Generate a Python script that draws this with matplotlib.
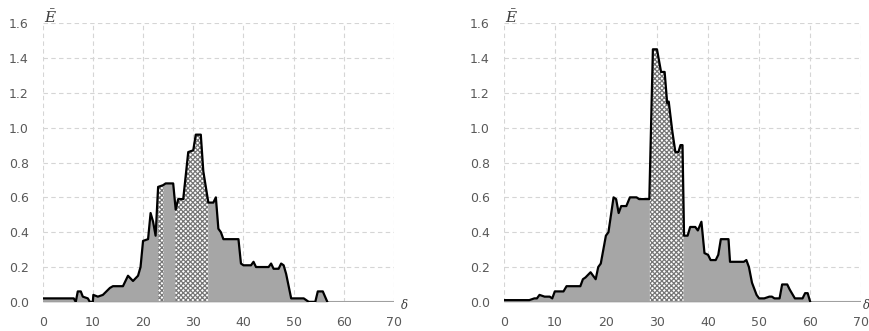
import numpy as np
import matplotlib.pyplot as plt

# left panel curve (breakpoints)
x_left = [0, 6.2, 6.6, 7.0, 7.6, 8.0, 9.0, 9.4, 10.0, 10.1, 11.0, 12.0, 13.4, 14.0, 16.0, 17.0,
          18.0, 19.0, 19.5, 20.0, 21.0, 21.5, 22.0, 22.5, 23.0, 24.0, 24.5, 26.0, 26.5, 27.0,
          28.0, 29.0, 30.0, 30.5, 31.5, 32.0, 33.0, 34.0, 34.5, 35.0, 35.5, 36.0, 39.0, 39.5,
          40.0, 41.5, 42.0, 42.5, 45.0, 45.5, 46.0, 47.0, 47.5, 48.0, 48.5, 49.5, 52.0, 53.0,
          54.3, 54.8, 55.8, 56.7, 70.0]
e_left = [0.02, 0.02, 0.0, 0.06, 0.06, 0.03, 0.02, 0.0, 0.0, 0.04, 0.03, 0.04, 0.08, 0.09, 0.09, 0.15,
          0.12, 0.15, 0.2, 0.35, 0.36, 0.51, 0.46, 0.38, 0.66, 0.67, 0.68, 0.68, 0.53, 0.59,
          0.59, 0.86, 0.87, 0.96, 0.96, 0.75, 0.57, 0.57, 0.60, 0.42, 0.40, 0.36, 0.36, 0.22,
          0.21, 0.21, 0.23, 0.20, 0.20, 0.22, 0.19, 0.19, 0.22, 0.21, 0.16, 0.02, 0.02, 0.0,
          0.0, 0.06, 0.06, 0.0, 0.0]
hatch_left = [(23.0, 24.1), (26.4, 33.0)]

# right panel curve
x_right = [0, 5.0, 6.0, 6.5, 7.0, 8.0, 9.0, 9.5, 10.0, 11.7, 12.3, 15.0, 15.5, 16.0, 17.0, 17.5,
           18.0, 18.5, 19.0, 19.5, 20.0, 20.5, 21.5, 22.0, 22.5, 23.0, 24.0, 24.7, 26.0, 26.5,
           28.5, 29.2, 30.0, 30.8, 31.5, 32.0, 32.3, 33.0, 33.6, 34.2, 34.6, 35.0, 35.3, 36.0,
           36.5, 37.5, 38.0, 38.7, 39.3, 40.0, 40.5, 41.5, 42.0, 42.5, 44.0, 44.3, 47.0, 47.5,
           48.0, 48.6, 49.5, 50.0, 51.0, 52.0, 52.5, 53.0, 54.0, 54.5, 55.5, 56.0, 57.0, 58.5,
           59.0, 59.5, 60.0, 70.0]
e_right = [0.01, 0.01, 0.02, 0.02, 0.04, 0.03, 0.03, 0.02, 0.06, 0.06, 0.09, 0.09, 0.13, 0.14, 0.17, 0.15,
           0.13, 0.20, 0.22, 0.30, 0.38, 0.40, 0.60, 0.59, 0.51, 0.55, 0.55, 0.60, 0.60, 0.59,
           0.59, 1.45, 1.45, 1.32, 1.32, 1.14, 1.15, 0.98, 0.86, 0.86, 0.90, 0.90, 0.38, 0.38,
           0.43, 0.43, 0.41, 0.46, 0.28, 0.27, 0.24, 0.24, 0.27, 0.36, 0.36, 0.23, 0.23, 0.24,
           0.20, 0.11, 0.04, 0.02, 0.02, 0.03, 0.03, 0.02, 0.02, 0.10, 0.10, 0.07, 0.02, 0.02,
           0.05, 0.05, 0.0, 0.0]
hatch_right = [(28.6, 35.2)]

x_ticks = [0, 10, 20, 30, 40, 50, 60, 70]
y_ticks = [0.0, 0.2, 0.4, 0.6, 0.8, 1.0, 1.2, 1.4, 1.6]

plt.rcParams['hatch.linewidth'] = 0.9
plt.rcParams['mathtext.fontset'] = 'dejavuserif'

fig = plt.figure(figsize=(8.7, 3.31), dpi=100)
ax1 = fig.add_axes([0.049, 0.088, 0.404, 0.842])
ax2 = fig.add_axes([0.579, 0.088, 0.411, 0.842])


def draw(ax, x, e, spans, delta_x):
    x = np.array(x, dtype=float)
    e = np.array(e, dtype=float)
    ax.fill_between(x, e, 0, color='#a6a6a6', lw=0, zorder=2)
    for a, b in spans:
        xs = np.concatenate([[a], x[(x > a) & (x < b)], [b]])
        ys = np.interp(xs, x, e)
        ax.fill_between(xs, ys, 0, facecolor='white', edgecolor='#767676',
                        hatch='xxxxxxx', lw=0, zorder=3)
    ax.axhline(0, color='#a0a0a0', lw=1.5, zorder=4)
    # outline stops where the curve comes back to zero for good
    last = np.nonzero(e)[0][-1] + 2
    ax.plot(x[:last], e[:last], color='black', lw=1.6, zorder=5)
    ax.set_xlim(0, 70)
    ax.set_ylim(0, 1.6)
    ax.set_xticks(x_ticks)
    ax.set_yticks(y_ticks)
    ax.set_yticklabels([f'{v:.1f}' for v in y_ticks])
    ax.grid(True, ls=(0, (4, 3)), color='#d5d5d5', lw=0.8, zorder=0)
    for s in ax.spines.values():
        s.set_visible(False)
    ax.tick_params(length=0, labelsize=9, labelcolor='#595959')
    ax.tick_params(axis='x', pad=10)
    ax.tick_params(axis='y', pad=10)
    ax.text(0.2, 1.585, r'$\bar{E}$', fontsize=11, color='#404040', va='bottom', ha='left')
    ax.text(delta_x, -0.02, r'$\delta$', fontsize=8.5, color='#404040', va='center', ha='left',
            clip_on=False)


draw(ax1, x_left, e_left, hatch_left, 71.2)
draw(ax2, x_right, e_right, hatch_right, 70.2)

fig.savefig('out.png', dpi=100)
